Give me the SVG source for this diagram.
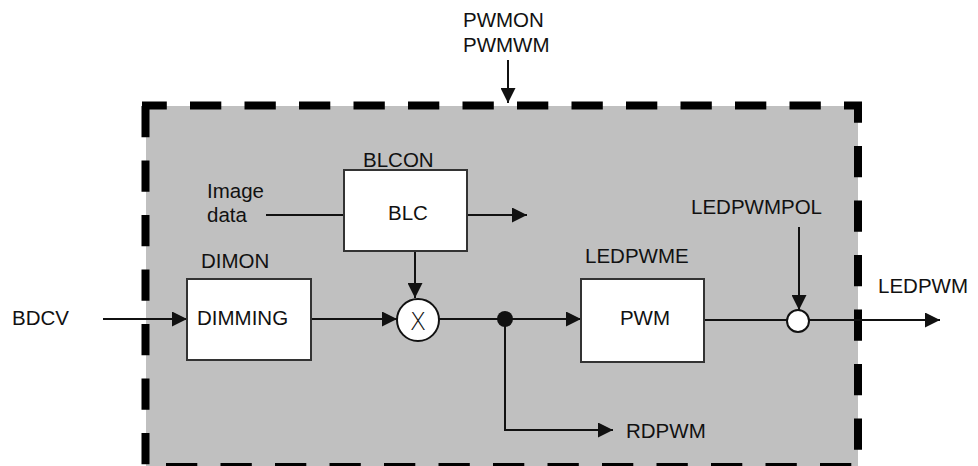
<svg xmlns="http://www.w3.org/2000/svg" width="978" height="466" viewBox="0 0 978 466">
<defs>
<style>
text{font-family:"Liberation Sans",Arial,sans-serif;font-size:20.5px;fill:#111}
.box{fill:#fff;stroke:#333;stroke-width:2}
.ln{fill:none;stroke:#111;stroke-width:2}
.arr{marker-end:url(#ah)}
.dash{fill:none;stroke:#000;stroke-width:8;stroke-dasharray:31.3 23.2}
</style>
<marker id="ah" markerUnits="userSpaceOnUse" markerWidth="15" markerHeight="15" refX="15" refY="7.5" orient="auto">
<path d="M0,0 L15,7.5 L0,15 z" fill="#111"/>
</marker>
</defs>
<rect width="978" height="466" fill="#fff"/>
<g id="boundary">
<rect x="146" y="106" width="712" height="362" fill="#c0c0c0"/>
<line class="dash" x1="142" y1="105.5" x2="862" y2="105.5" stroke-dashoffset="6.5"/>
<line class="dash" x1="145.5" y1="106" x2="145.5" y2="468"/>
<line class="dash" x1="858" y1="102" x2="858" y2="468" stroke-dashoffset="10.5"/>
<line class="dash" x1="166" y1="467" x2="856" y2="467"/>
</g>
<g id="labels">
<text x="463" y="27">PWMON</text>
<text x="463" y="52">PWMWM</text>
<text x="207" y="198">Image</text>
<text x="207" y="222">data</text>
<text x="12" y="325">BDCV</text>
<text x="691" y="214">LEDPWMPOL</text>
<text x="878" y="293">LEDPWM</text>
<text x="626" y="438">RDPWM</text>
</g>
<g id="connectors">
<line class="ln arr" x1="508" y1="60" x2="508" y2="103"/>
<line class="ln" x1="266" y1="215" x2="344" y2="215"/>
<line class="ln arr" x1="467" y1="215" x2="527" y2="215"/>
<line class="ln arr" x1="415" y1="251" x2="415" y2="298"/>
<line class="ln arr" x1="103" y1="319" x2="187" y2="319"/>
<line class="ln arr" x1="311" y1="319" x2="397" y2="319"/>
<line class="ln arr" x1="439" y1="319" x2="581" y2="319"/>
<polyline class="ln arr" points="505,319 505,430 613,430"/>
<line class="ln" x1="704" y1="320" x2="787" y2="320"/>
<line class="ln arr" x1="799" y1="227" x2="799" y2="310"/>
<line class="ln arr" x1="809" y1="320" x2="940" y2="320"/>
<circle cx="505" cy="319" r="8" fill="#111"/>
</g>
<g id="blc">
<text x="363" y="167">BLCON</text>
<rect class="box" x="344" y="170" width="123" height="81"/>
<text x="408" y="220" text-anchor="middle">BLC</text>
</g>
<g id="dimming">
<text x="201" y="268">DIMON</text>
<rect class="box" x="187" y="279" width="124" height="81"/>
<text x="197" y="325">DIMMING</text>
</g>
<g id="multiplier">
<circle cx="418" cy="320" r="21" fill="#fff" stroke="#111" stroke-width="2"/>
<text x="418" y="330" text-anchor="middle" style="font-size:24px;font-family:'DejaVu Sans','Liberation Sans',sans-serif;font-weight:200">X</text>
</g>
<g id="pwm">
<text x="585" y="263">LEDPWME</text>
<rect class="box" x="581" y="279" width="123" height="83"/>
<text x="645" y="325" text-anchor="middle">PWM</text>
</g>
<g id="polarity">
<circle cx="798" cy="321" r="11" fill="#fff" stroke="#111" stroke-width="2"/>
</g>
</svg>
